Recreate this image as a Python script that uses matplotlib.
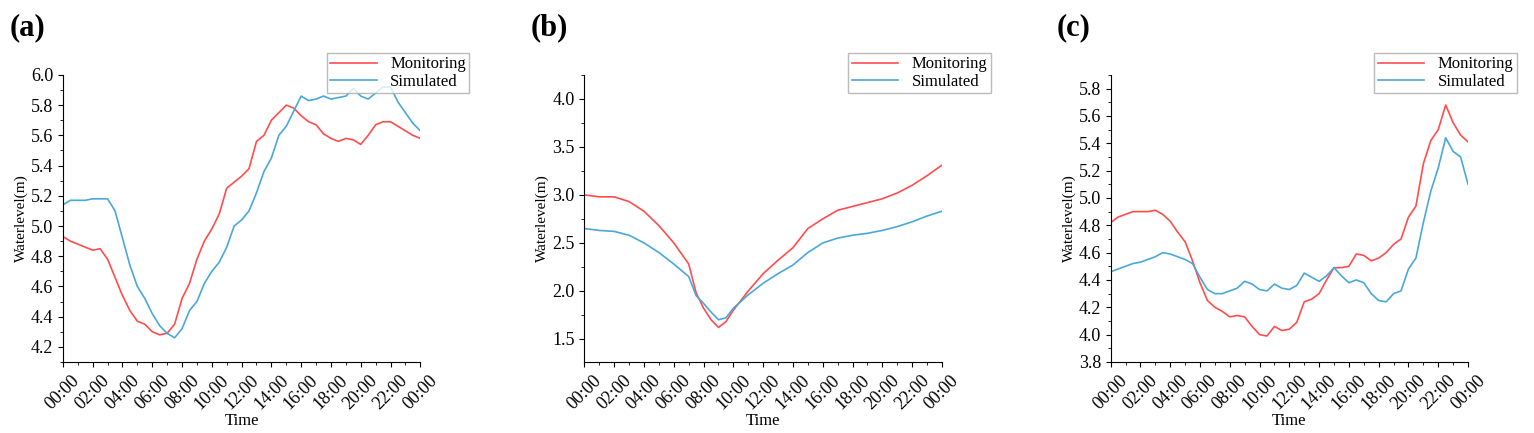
import numpy as np
import matplotlib.pyplot as plt
from matplotlib.ticker import MultipleLocator

plt.rcParams['font.family'] = ['Liberation Serif', 'DejaVu Serif']

t_half = np.arange(0, 24.5, 0.5)

mon_a = [4.93, 4.90, 4.88, 4.86, 4.84, 4.85, 4.78, 4.66, 4.54, 4.44, 4.37, 4.35, 4.30, 4.28, 4.29, 4.35,
         4.52, 4.62, 4.78, 4.90, 4.98, 5.08, 5.25, 5.29, 5.33, 5.38, 5.56, 5.60, 5.70, 5.75, 5.80, 5.78,
         5.73, 5.69, 5.67, 5.61, 5.58, 5.56, 5.58, 5.57, 5.54, 5.60, 5.67, 5.69, 5.69, 5.66, 5.63, 5.60, 5.58]
sim_a = [5.14, 5.17, 5.17, 5.17, 5.18, 5.18, 5.18, 5.10, 4.92, 4.74, 4.60, 4.52, 4.42, 4.34, 4.29, 4.26,
         4.32, 4.44, 4.50, 4.62, 4.70, 4.76, 4.86, 5.00, 5.04, 5.10, 5.22, 5.36, 5.45, 5.60, 5.66, 5.76,
         5.86, 5.83, 5.84, 5.86, 5.84, 5.85, 5.86, 5.91, 5.86, 5.84, 5.88, 5.92, 5.92, 5.82, 5.75, 5.68, 5.63]

t_b = [0, 1, 2, 3, 4, 5, 6, 7, 7.5, 8, 8.5, 9, 9.5, 10, 11, 12, 13, 14, 15, 16, 17, 18, 19, 20, 21, 22, 23, 24]
mon_b = [3.00, 2.98, 2.98, 2.93, 2.83, 2.68, 2.50, 2.28, 1.98, 1.82, 1.70, 1.62, 1.68, 1.80, 2.00, 2.18,
         2.32, 2.45, 2.65, 2.75, 2.84, 2.88, 2.92, 2.96, 3.02, 3.10, 3.20, 3.31]
sim_b = [2.65, 2.63, 2.62, 2.58, 2.50, 2.40, 2.28, 2.15, 1.95, 1.87, 1.78, 1.70, 1.72, 1.82, 1.96, 2.08,
         2.18, 2.27, 2.40, 2.50, 2.55, 2.58, 2.60, 2.63, 2.67, 2.72, 2.78, 2.83]

mon_c = [4.82, 4.86, 4.88, 4.90, 4.90, 4.90, 4.91, 4.88, 4.83, 4.75, 4.68, 4.54, 4.38, 4.25, 4.20, 4.17,
         4.13, 4.14, 4.13, 4.06, 4.00, 3.99, 4.06, 4.03, 4.04, 4.09, 4.24, 4.26, 4.30, 4.40, 4.49, 4.49,
         4.50, 4.59, 4.58, 4.54, 4.56, 4.60, 4.66, 4.70, 4.86, 4.94, 5.25, 5.42, 5.50, 5.68, 5.55, 5.46, 5.41]
sim_c = [4.46, 4.48, 4.50, 4.52, 4.53, 4.55, 4.57, 4.60, 4.59, 4.57, 4.55, 4.52, 4.42, 4.33, 4.30, 4.30,
         4.32, 4.34, 4.39, 4.37, 4.33, 4.32, 4.37, 4.34, 4.33, 4.36, 4.45, 4.42, 4.39, 4.43, 4.49, 4.43,
         4.38, 4.40, 4.38, 4.30, 4.25, 4.24, 4.30, 4.32, 4.48, 4.56, 4.82, 5.05, 5.22, 5.44, 5.34, 5.30, 5.10]

xlabels = ['%02d:00' % (h % 24) for h in range(0, 25, 2)]

panels = [
    ('(a)', t_half, mon_a, sim_a, (4.1, 6.0), 0.2, 0.1, 0.041),
    ('(b)', t_b, mon_b, sim_b, (1.26, 4.25), 0.5, 0.25, 0.381),
    ('(c)', t_half, mon_c, sim_c, (3.8, 5.9), 0.2, 0.1, 0.724),
]

fig = plt.figure(figsize=(15.34, 4.33), dpi=100)
for lab, t, mon, sim, ylim, major, minor, left in panels:
    ax = fig.add_axes([left, 0.164, 0.233, 0.663])
    ax.plot(t, mon, color='#ff4d4d', lw=1.2, label='Monitoring')
    ax.plot(t, sim, color='#4aa8d8', lw=1.2, label='Simulated')
    ax.set_xlim(0, 24)
    ax.set_ylim(*ylim)
    ax.set_xticks(range(0, 25, 2))
    ax.set_xticklabels(xlabels, rotation=45, fontsize=13)
    ax.xaxis.set_minor_locator(MultipleLocator(1))
    ax.yaxis.set_major_locator(MultipleLocator(major))
    ax.yaxis.set_minor_locator(MultipleLocator(minor))
    ax.tick_params(axis='y', labelsize=13)
    ax.spines['top'].set_visible(False)
    ax.spines['right'].set_visible(False)
    ax.set_xlabel('Time', fontsize=12, labelpad=0)
    ax.set_ylabel('Waterlevel(m)', fontsize=11, labelpad=2)
    ax.legend(loc='upper right', bbox_to_anchor=(1.16, 1.105), fancybox=False, fontsize=12,
              borderpad=0.2, handlelength=2.8, labelspacing=0.1, edgecolor='#aaaaaa')
    fig.text(left - 0.035, 0.935, lab, fontsize=22, fontweight='bold', va='center')

fig.savefig('out.png', dpi=100)
